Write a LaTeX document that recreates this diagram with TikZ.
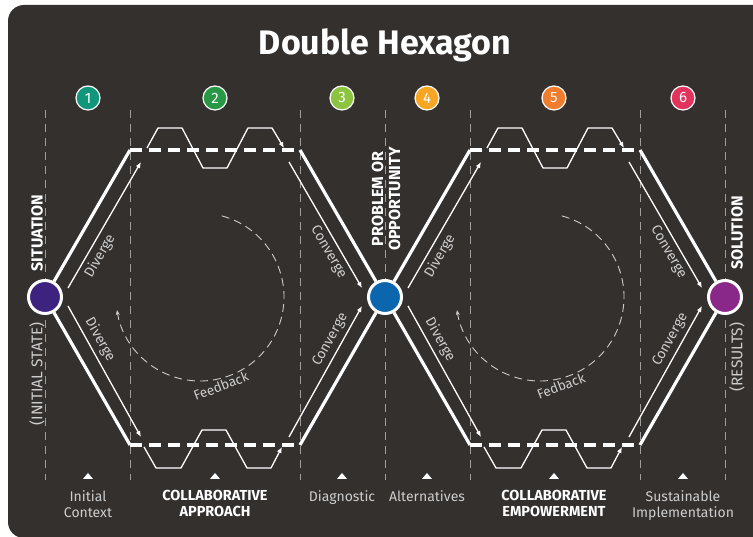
\documentclass[tikz,border=0pt]{standalone}
\usepackage{fontspec}
\setmainfont{Fira Sans}
\usepackage{tikz}
\usetikzlibrary{arrows.meta, positioning}

\definecolor{board}{RGB}{52,48,46}
\definecolor{softgray}{RGB}{205,205,205}
\definecolor{guidegray}{RGB}{160,158,155}
\definecolor{sitcol}{RGB}{62,34,128}
\definecolor{probcol}{RGB}{12,102,174}
\definecolor{solcol}{RGB}{138,40,138}
\definecolor{stepA}{RGB}{16,150,122}
\definecolor{stepB}{RGB}{40,152,70}
\definecolor{stepC}{RGB}{140,196,63}
\definecolor{stepD}{RGB}{246,166,35}
\definecolor{stepE}{RGB}{239,125,45}
\definecolor{stepF}{RGB}{226,51,92}

\tikzset{
  hexline/.style={white, line width=3.2pt},
  hexdash/.style={white, line width=3.2pt, dash pattern=on 12pt off 7pt},
  flow/.style={white, line width=1.3pt, -{Latex[length=6pt,width=5pt]}},
  zigzag/.style={white, line width=1.3pt, -{Latex[length=6pt,width=5pt]}},
  guide/.style={guidegray, line width=0.9pt, dash pattern=on 8pt off 6pt},
  feedback/.style={softgray, line width=0.9pt, dash pattern=on 8pt off 5pt, -{Stealth[length=5pt,width=4pt]}},
  state/.style={circle, draw=white, line width=3pt, minimum size=33pt, inner sep=0pt},
  stepno/.style={circle, draw=white, line width=1.2pt, minimum size=24pt, inner sep=0pt,
                 text=white, font=\fontsize{15}{15}\selectfont},
  flowlabel/.style={text=softgray, font=\fontsize{14}{15}\selectfont, sloped, inner sep=1pt},
  fblabel/.style={text=softgray, font=\fontsize{13.5}{15}\selectfont, inner sep=1pt},
  stagename/.style={text=softgray, align=center, anchor=north, inner sep=0pt,
                    font=\fontsize{14}{16}\selectfont},
  stagebold/.style={stagename, text=white, font=\bfseries\fontsize{14.5}{16}\selectfont},
  statename/.style={text=white, align=center, inner sep=0pt, font=\bfseries\fontsize{16}{17}\selectfont},
  statenote/.style={text=softgray, inner sep=0pt, font=\fontsize{15.5}{17}\selectfont}
}

\begin{document}
\begin{tikzpicture}[x=1pt, y=1pt]
\useasboundingbox (0,0) rectangle (753,537);
\fill[board, rounded corners=16pt] (8,-1) rectangle (790,532);

% title and step numbers
\node[text=white, font=\bfseries\fontsize{34}{36}\selectfont] (title) at (385,492) {Double Hexagon};
\foreach \nx/\ncol/\nn in {88/stepA/1, 215/stepB/2, 342/stepC/3, 427/stepD/4, 554/stepE/5, 683/stepF/6}{
  \node[stepno, fill=\ncol] (n\nn) at (\nx,439) {\nn};
  \fill[white] (\nx-5,58) -- (\nx+5,58) -- (\nx,64) -- cycle;
}

% guides
\foreach \gx in {45,130,300,385,470,640,725}
  \draw[guide] (\gx,427) -- (\gx,57);

% states
\node[state, fill=sitcol] (S) at (45,240) {};
\node[state, fill=probcol] (P) at (385,240) {};
\node[state, fill=solcol] (R) at (725,240) {};

\node[statename, rotate=90] (sitname) at (37,304) {SITUATION};
\node[statenote, rotate=90] (sitnote) at (37,163) {(INITIAL STATE)};
\node[statename, rotate=90] (probname) at (386,338) {PROBLEM OR\\OPPORTUNITY};
\node[statename, rotate=90] (solname) at (737,304) {SOLUTION};
\node[statenote, rotate=90] (solnote) at (737,180) {(RESULTS)};

% the two hexagons
\foreach \dx/\from/\to/\fb in {0/S/P/Feedback, 340/P/R/Fedback}{
\begin{scope}[xshift=\dx]
  \coordinate (tl) at (130,387);
  \coordinate (tr) at (300,387);
  \coordinate (bl) at (130,92);
  \coordinate (br) at (300,92);
  \draw[hexline] (\from) -- (tl);
  \draw[hexline] (\from) -- (bl);
  \draw[hexline] (tr) -- (\to);
  \draw[hexline] (br) -- (\to);
  \draw[hexdash] (tl) -- (tr);
  \draw[hexdash] (bl) -- (br);

  \draw[flow] (68,249) -- node[flowlabel, pos=0.3, below=3pt] {Diverge} (141,375);
  \draw[flow] (68,231) -- node[flowlabel, pos=0.3, above=3pt] {Diverge} (141,100);
  \draw[flow] (289,375) -- node[flowlabel, pos=0.67, below=3pt] {Converge} (362,249);
  \draw[flow] (289,100) -- node[flowlabel, pos=0.7, above=3pt] {Converge} (362,231);

  \draw[zigzag] (147,389) -- ++(11,20) -- ++(24,0) -- ++(21,-40) -- ++(24,0)
                -- ++(21,40) -- ++(24,0) -- ++(12,-20);
  \draw[zigzag] (144,90) -- ++(12,-21) -- ++(25,0) -- ++(21,38) -- ++(24,0)
                -- ++(21,-38) -- ++(24,0) -- ++(11,21);

  \draw[feedback] (200,240) ++(75:84) arc[start angle=75, end angle=-171, radius=84];
  \node[fblabel, rotate=21] (fb) at (221,151) {\fb};
\end{scope}
}

% stage names
\node[stagename] (context) at (88,47) {Initial\\Context};
\node[stagebold] (approach) at (215,47) {COLLABORATIVE\\APPROACH};
\node[stagename] (diagnostic) at (342,47) {Diagnostic};
\node[stagename] (alternatives) at (427,47) {Alternatives};
\node[stagebold] (empower) at (554,47) {COLLABORATIVE\\EMPOWERMENT};
\node[stagename] (implement) at (683,47) {Sustainable\\Implementation};

\end{tikzpicture}
\end{document}
